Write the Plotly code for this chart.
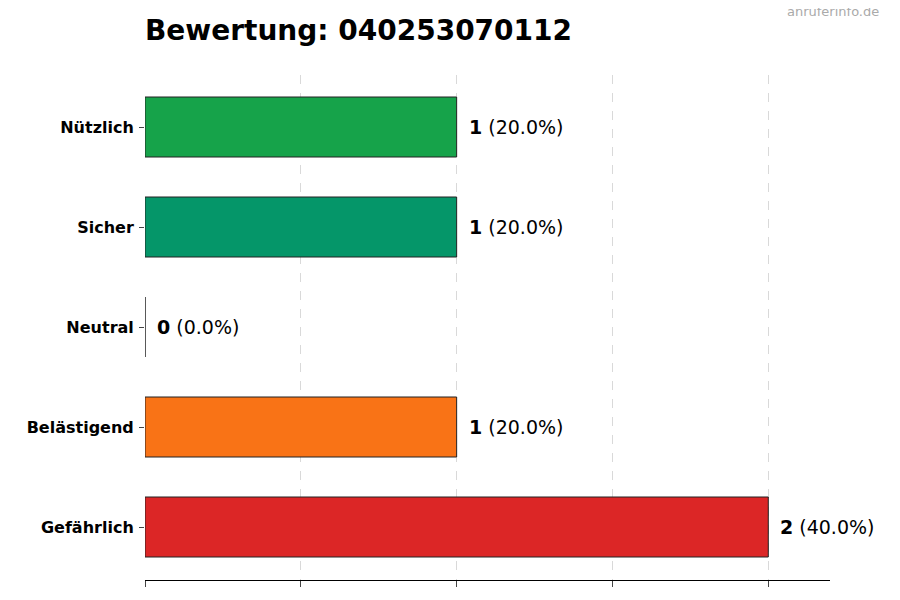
import plotly.graph_objects as go

categories = ["Gefährlich", "Belästigend", "Neutral", "Sicher", "Nützlich"]
counts = [2, 1, 0, 1, 1]
colors = ["#dc2626", "#f97316", "#9ca3af", "#059669", "#16a34a"]
total = sum(counts)

fig = go.Figure(go.Bar(
    x=counts, y=categories, orientation="h", width=0.6,
    marker=dict(color=colors, line=dict(color="#222222", width=1)),
    hoverinfo="skip",
))

for c, v in zip(categories, counts):
    fig.add_annotation(
        x=v, y=c, xref="x", yref="y", xanchor="left", xshift=10, showarrow=False,
        text=f"<b>{v}</b> ({v / total * 100:.1f}%)",
        font=dict(size=19, color="black", family="DejaVu Sans"),
    )

# page body has an 8px margin, so the figure is 8px smaller on each axis
fig.update_layout(
    width=892, height=592,
    paper_bgcolor="white", plot_bgcolor="white",
    margin=dict(l=137, r=70, t=67, b=20),
    showlegend=False,
    font=dict(family="DejaVu Sans", color="black"),
    title=dict(text="<b>Bewertung: 040253070112</b>", x=137 / 892, xanchor="left",
               y=0.962, yanchor="middle", font=dict(size=28, color="black")),
    xaxis=dict(range=[0, 2.198], tickvals=[0, 0.5, 1, 1.5, 2], showticklabels=False,
               ticks="outside", ticklen=6, showgrid=True, gridcolor="#d9d9d9",
               griddash="dash", showline=True, linecolor="black", zeroline=False),
    yaxis=dict(range=[-0.53, 4.52], ticks="outside", ticklen=5, showline=False,
               tickfont=dict(size=16, color="black", family="DejaVu Sans", weight="bold"),
               ticklabelstandoff=2),
)
fig.add_annotation(text="anruferinfo.de", xref="paper", yref="paper", x=1.075, y=1.145,
                   xanchor="right", showarrow=False, font=dict(size=13, color="#aaaaaa"))

fig.write_html("out.html")
